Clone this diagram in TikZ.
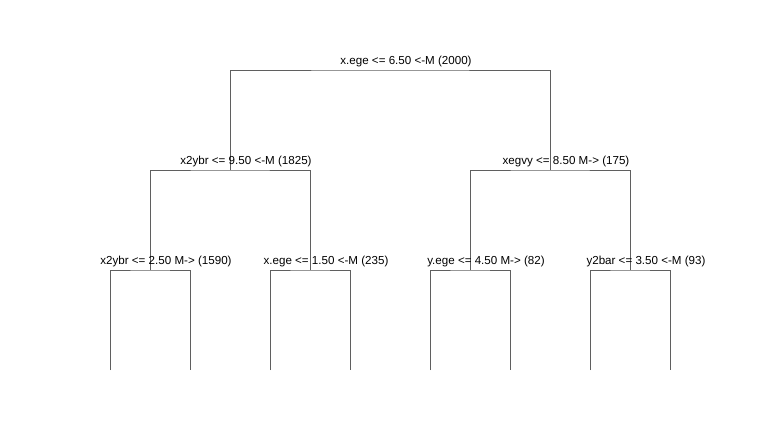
\documentclass[tikz,border=0pt]{standalone}
\usepackage{fontspec}
\setmainfont{Liberation Sans}
\usepackage{xcolor}
\usepackage{tikz}
\usetikzlibrary{positioning}
\definecolor{edgegrey}{HTML}{5F5F5F}

\begin{document}
\begin{tikzpicture}[x=1pt,y=-1pt,
  split/.style={font=\fontsize{11.6}{14}\selectfont,inner sep=0pt,anchor=base,text=black},
  edge/.style={draw=edgegrey,line width=1pt}]
\useasboundingbox (0,0) rectangle (780,440);
% split points
\coordinate (root) at (390,70);
\coordinate (l) at (230,170);
\coordinate (r) at (550,170);
\coordinate (ll) at (150,270);
\coordinate (lr) at (310,270);
\coordinate (rl) at (470,270);
\coordinate (rr) at (630,270);
% leaves
\foreach \n/\x in {lll/110,llr/190,lrl/270,lrr/350,rll/430,rlr/510,rrl/590,rrr/670}
  \coordinate (\n) at (\x,370);
% branches
\draw[edge] (l) |- (root) -| (r);
\draw[edge] (ll) |- (l) -| (lr);
\draw[edge] (rl) |- (r) -| (rr);
\draw[edge] (lll) |- (ll) -| (llr);
\draw[edge] (lrl) |- (lr) -| (lrr);
\draw[edge] (rll) |- (rl) -| (rlr);
\draw[edge] (rrl) |- (rr) -| (rrr);
% split labels
\node[split] (troot) at ([xshift=16pt,yshift=6pt]root) {x.ege <= 6.50 <-M (2000)};
\node[split] (tl) at ([xshift=16pt,yshift=6pt]l) {x2ybr <= 9.50 <-M (1825)};
\node[split] (tr) at ([xshift=16pt,yshift=6pt]r) {xegvy <= 8.50 M-> (175)};
\node[split] (tll) at ([xshift=16pt,yshift=6pt]ll) {x2ybr <= 2.50 M-> (1590)};
\node[split] (tlr) at ([xshift=16pt,yshift=6pt]lr) {x.ege <= 1.50 <-M (235)};
\node[split] (trl) at ([xshift=16pt,yshift=6pt]rl) {y.ege <= 4.50 M-> (82)};
\node[split] (trr) at ([xshift=16pt,yshift=6pt]rr) {y2bar <= 3.50 <-M (93)};
\end{tikzpicture}
\end{document}
